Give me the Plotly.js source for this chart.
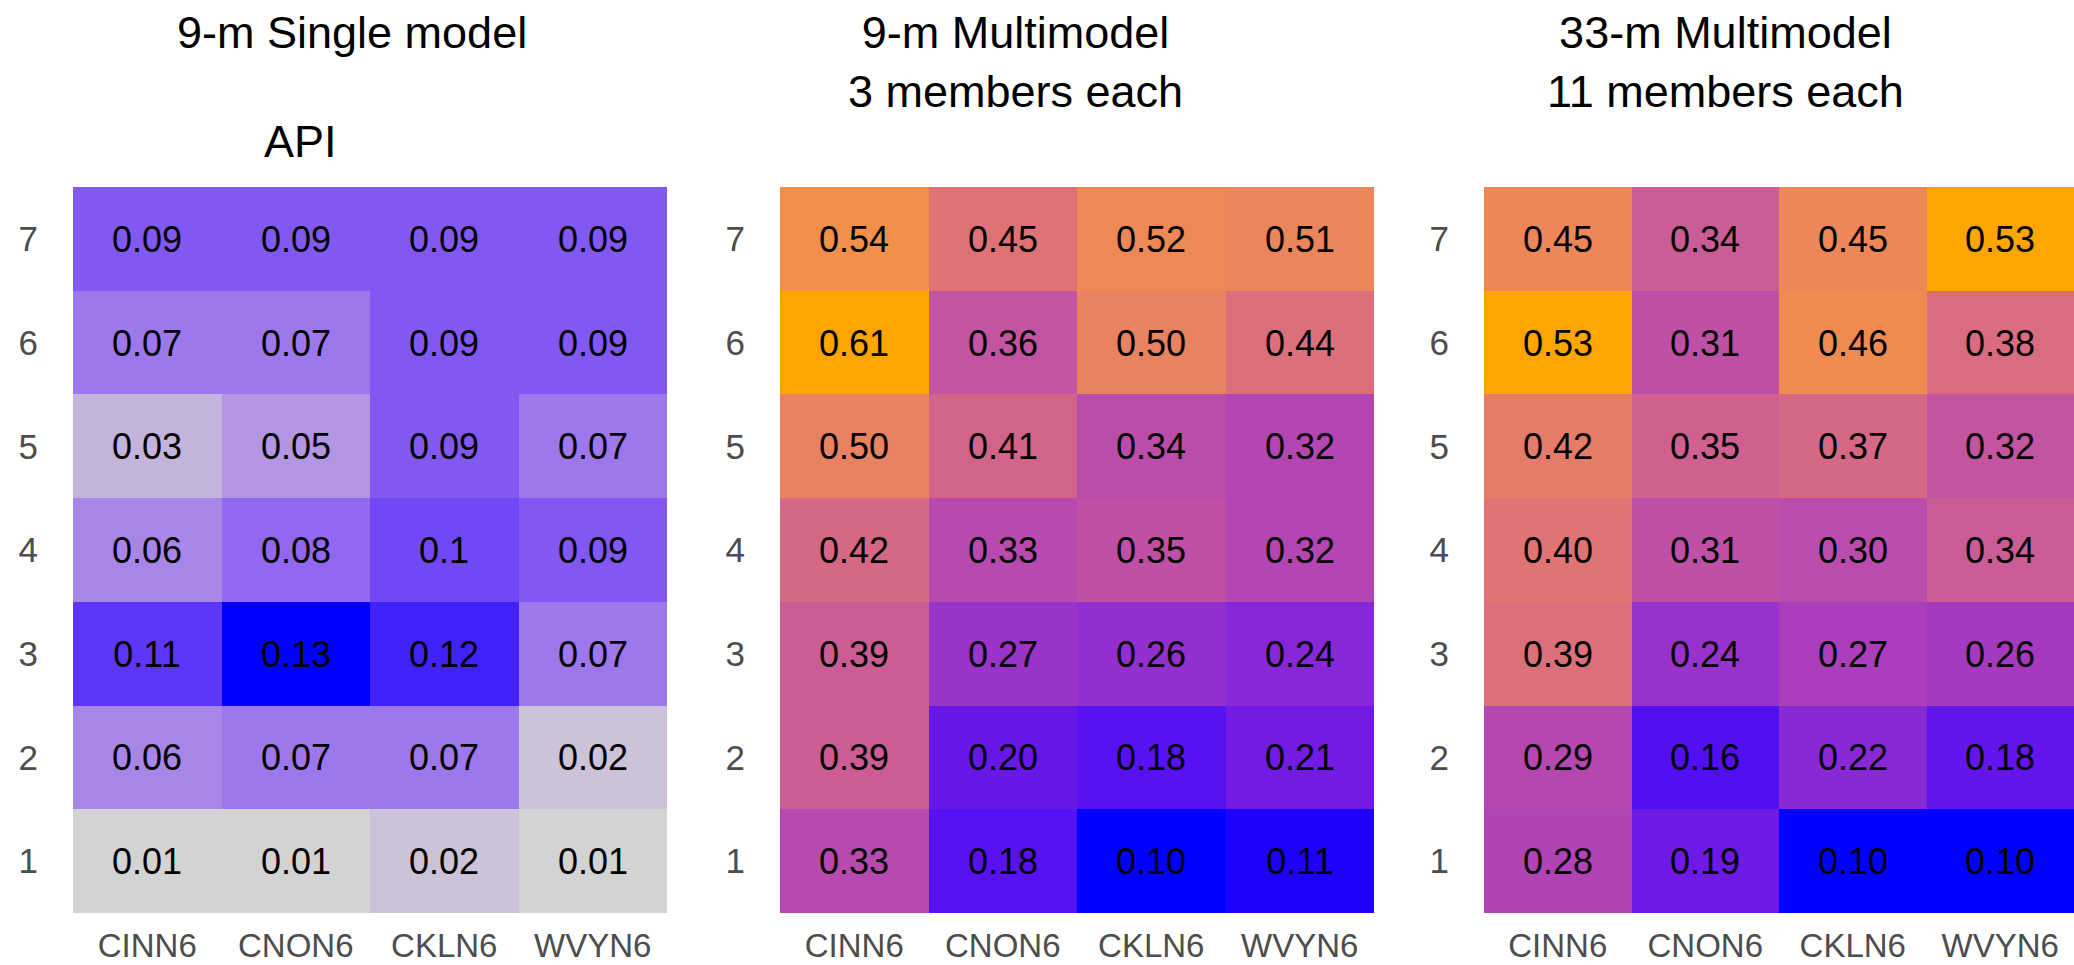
<!DOCTYPE html>
<html>
<head>
<meta charset="utf-8">
<script src="https://cdn.plot.ly/plotly-3.0.1.min.js"></script>
<style>html,body{margin:0;padding:0;background:#ffffff;overflow:hidden}</style>
</head>
<body>
<div id="chart" style="width:2074px;height:965px"></div>
<script>
// ---- data (rows = lead 1..7, columns = stations) ----
const stations = ['CINN6', 'CNON6', 'CKLN6', 'WVYN6'];
const leads = [1, 2, 3, 4, 5, 6, 7];

const single9 = [
  [0.01, 0.01, 0.02, 0.01],
  [0.06, 0.07, 0.07, 0.02],
  [0.11, 0.13, 0.12, 0.07],
  [0.06, 0.08, 0.1, 0.09],
  [0.03, 0.05, 0.09, 0.07],
  [0.07, 0.07, 0.09, 0.09],
  [0.09, 0.09, 0.09, 0.09]
];
const multi9 = [
  [0.33, 0.18, 0.10, 0.11],
  [0.39, 0.20, 0.18, 0.21],
  [0.39, 0.27, 0.26, 0.24],
  [0.42, 0.33, 0.35, 0.32],
  [0.50, 0.41, 0.34, 0.32],
  [0.61, 0.36, 0.50, 0.44],
  [0.54, 0.45, 0.52, 0.51]
];
const multi33 = [
  [0.28, 0.19, 0.10, 0.10],
  [0.29, 0.16, 0.22, 0.18],
  [0.39, 0.24, 0.27, 0.26],
  [0.40, 0.31, 0.30, 0.34],
  [0.42, 0.35, 0.37, 0.32],
  [0.53, 0.31, 0.46, 0.38],
  [0.45, 0.34, 0.45, 0.53]
];
const panelTitles = ['9-m Single model', '9-m Multimodel<br>3 members each', '33-m Multimodel<br>11 members each'];
const subTitle = 'API';

// ---- colour helpers: gradient interpolated in CIE Lab ----
function toLin(c){ c /= 255; return c <= 0.04045 ? c / 12.92 : Math.pow((c + 0.055) / 1.055, 2.4); }
function toSrgb(c){ c = c <= 0.0031308 ? 12.92 * c : 1.055 * Math.pow(c, 1 / 2.4) - 0.055; return Math.round(Math.max(0, Math.min(1, c)) * 255); }
function rgb2lab(rgb){
  const R = toLin(rgb[0]), G = toLin(rgb[1]), B = toLin(rgb[2]);
  const X = (R * 0.4124564 + G * 0.3575761 + B * 0.1804375) / 0.95047;
  const Y = (R * 0.2126729 + G * 0.7151522 + B * 0.0721750);
  const Z = (R * 0.0193339 + G * 0.1191920 + B * 0.9503041) / 1.08883;
  const f = t => t > 0.008856 ? Math.cbrt(t) : 7.787 * t + 16 / 116;
  const fx = f(X), fy = f(Y), fz = f(Z);
  return [116 * fy - 16, 500 * (fx - fy), 200 * (fy - fz)];
}
function lab2rgb(lab){
  const fy = (lab[0] + 16) / 116, fx = fy + lab[1] / 500, fz = fy - lab[2] / 200;
  const inv = t => t > 0.206893 ? t * t * t : (t - 16 / 116) / 7.787;
  const X = inv(fx) * 0.95047, Y = inv(fy), Z = inv(fz) * 1.08883;
  const R = 3.2404542 * X - 1.5371385 * Y - 0.4985314 * Z;
  const G = -0.9692660 * X + 1.8760108 * Y + 0.0415560 * Z;
  const B = 0.0556434 * X - 0.2040259 * Y + 1.0572252 * Z;
  return [toSrgb(R), toSrgb(G), toSrgb(B)];
}
// warp: piecewise-linear easing of the gradient position (style only)
function warpFn(pts){
  return p => {
    for (let i = 1; i < pts.length; i++){
      if (p <= pts[i][0]){
        const a = pts[i - 1], b = pts[i];
        return a[1] + (b[1] - a[1]) * (p - a[0]) / (b[0] - a[0]);
      }
    }
    return 1;
  };
}
function labScale(lo, hi, n, warp){
  const a = rgb2lab(lo), b = rgb2lab(hi), out = [];
  for (let i = 0; i <= n; i++){
    const p = i / n;
    const t = warp ? warp(p) : p;
    const c = lab2rgb([a[0] + (b[0] - a[0]) * t, a[1] + (b[1] - a[1]) * t, a[2] + (b[2] - a[2]) * t]);
    out.push([p, 'rgb(' + c.join(',') + ')']);
  }
  return out;
}
const grayBlue = labScale([211, 211, 211], [0, 0, 255], 40, null);
const blueOrange = labScale([0, 0, 255], [255, 165, 0], 60,
  warpFn([[0, 0], [0.15, 0.07], [0.2, 0.11], [0.28, 0.2], [0.45, 0.4], [0.68, 0.66], [1, 1]]));

const FONT = 'Liberation Sans, Arial, Helvetica, sans-serif';
const W = 2074, H = 965;
const plotTop = 187, plotBottom = 913;
const panelLeft = [73, 780, 1484];
const panelW = 594;

function fmt(arr, fixed){ return arr.map(r => r.map(v => fixed ? v.toFixed(2) : String(v))); }

const panels = [
  {z: single9, scale: grayBlue, zmin: 0.01, zmax: 0.13, fixed: false},
  {z: multi9, scale: blueOrange, zmin: 0.10, zmax: 0.61, fixed: true},
  {z: multi33, scale: blueOrange, zmin: 0.10, zmax: 0.53, fixed: true}
];

const traces = panels.map((p, i) => ({
  type: 'heatmap',
  x: stations,
  y: leads,
  z: p.z,
  text: fmt(p.z, p.fixed),
  texttemplate: '%{text}',
  textfont: {family: FONT, size: 36, color: '#000000'},
  colorscale: p.scale,
  zmin: p.zmin, zmax: p.zmax,
  showscale: false,
  hoverinfo: 'skip',
  xaxis: i === 0 ? 'x' : 'x' + (i + 1),
  yaxis: i === 0 ? 'y' : 'y' + (i + 1)
}));

const layout = {
  width: W, height: H,
  margin: {l: 0, r: 0, t: 0, b: 0},
  paper_bgcolor: '#ffffff', plot_bgcolor: '#ffffff',
  showlegend: false,
  annotations: []
};

const titleX = [352, 1015, 1725];
panels.forEach((p, i) => {
  const sx = i === 0 ? '' : String(i + 1);
  layout['xaxis' + sx] = {
    domain: [panelLeft[i] / W, Math.min(1, (panelLeft[i] + panelW) / W)],
    anchor: 'y' + sx,
    type: 'category',
    showgrid: false, zeroline: false, showline: false, ticks: '',
    ticklabelstandoff: 10,
    tickfont: {family: FONT, size: 33, color: '#4d4d4d'},
    fixedrange: true
  };
  layout['yaxis' + sx] = {
    domain: [1 - plotBottom / H, 1 - plotTop / H],
    anchor: 'x' + sx,
    range: [0.5, 7.5],
    tickvals: leads,
    showgrid: false, zeroline: false, showline: false, ticks: '',
    ticklabelstandoff: 34,
    tickfont: {family: FONT, size: 35, color: '#4d4d4d'},
    fixedrange: true
  };
  layout.annotations.push({
    text: panelTitles[i], xref: 'paper', yref: 'paper',
    x: titleX[i] / W, y: 1 - 5 / H, xanchor: 'center', yanchor: 'top',
    showarrow: false, align: 'center',
    font: {family: FONT, size: 45, color: '#000000'}
  });
});
layout.annotations.push({
  text: subTitle, xref: 'paper', yref: 'paper',
  x: 300 / W, y: 1 - 141 / H, xanchor: 'center', yanchor: 'middle',
  showarrow: false,
  font: {family: FONT, size: 45, color: '#000000'}
});

Plotly.newPlot('chart', traces, layout, {displayModeBar: false, staticPlot: true});
</script>
</body>
</html>
